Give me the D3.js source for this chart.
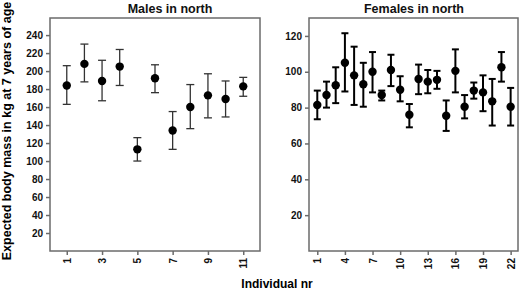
<!DOCTYPE html>
<html lang="en">
<head>
  <meta charset="UTF-8">
  <title>Expected body mass at 7 years of age</title>
  <style>
    body { margin: 0; background: #fff; }
    svg { display: block; font-family: 'Liberation Sans', Arial, sans-serif; font-weight: bold; }
    .axis path, .axis line { stroke: #6b6b6b; stroke-width: 1.5; }
    .axis text { font-size: 10px; font-weight: bold; fill: #111; }
    .frame { fill: none; stroke: #6b6b6b; stroke-width: 1.5; }
    .title { font-size: 12.5px; fill: #111; }
  </style>
  <script src="https://d3js.org/d3.v7.min.js"></script>
</head>
<body>
  <svg id="chart" width="520" height="290"></svg>

  <script>
    // males in north
    const maleIds   = [1, 2, 3, 4, 5, 6, 7, 8, 9, 10, 11];
    const maleMean  = [184, 208, 189, 205, 113, 192, 134, 160, 173, 169, 183];
    const maleUpper = [206, 230, 212, 224, 126, 207, 155, 185, 197, 189, 193];
    const maleLower = [163, 188, 167, 184, 100, 176, 113, 136, 148, 149, 172];
    const maleTicks = [1, 3, 5, 7, 9, 11];
    const maleYTicks = [20, 40, 60, 80, 100, 120, 140, 160, 180, 200, 220, 240];

    // females in north
    const femaleIds   = d3.range(1, 23);
    const femaleMean  = [81.5, 87, 92.5, 105, 98, 93, 100, 87, 101, 90, 76, 96, 94.5, 95.5, 75.5, 100.5, 80.5, 89.5, 88.5, 83.5, 102.5, 80.5];
    const femaleUpper = [89.5, 94.5, 102.5, 121.5, 114, 105, 111, 89.5, 109.5, 97.5, 82, 104, 101, 100.5, 84, 112.5, 87, 94, 98, 96, 111, 91];
    const femaleLower = [73.5, 80, 82.5, 89, 81.5, 80.5, 88.5, 84, 92, 83.5, 69, 87.5, 88, 90.5, 67, 88.5, 74, 85, 78, 70, 94.5, 70];
    const femaleTicks = [1, 4, 7, 10, 13, 16, 19, 22];
    const femaleYTicks = [20, 40, 60, 80, 100, 120];

    const svg = d3.select("#chart");
    const plotTop = 18, plotBottom = 251;

    function panel(opt) {
      const x = d3.scaleLinear().domain(opt.xDomain).range([opt.left, opt.right]);
      const y = d3.scaleLinear().domain(opt.yDomain).range([plotBottom, plotTop]);
      const g = svg.append("g");

      g.append("rect").attr("class", "frame")
        .attr("x", opt.left).attr("y", plotTop)
        .attr("width", opt.right - opt.left).attr("height", plotBottom - plotTop);

      const ya = g.append("g").attr("class", "axis")
        .attr("transform", `translate(${opt.left},0)`)
        .call(d3.axisLeft(y).tickValues(opt.yTicks).tickSize(4).tickPadding(3));
      ya.select(".domain").remove();

      const xa = g.append("g").attr("class", "axis")
        .attr("transform", `translate(0,${plotBottom})`)
        .call(d3.axisBottom(x).tickValues(opt.xTicks).tickSize(4));
      xa.select(".domain").remove();
      xa.selectAll("text")
        .attr("transform", "rotate(-90)")
        .attr("x", -7).attr("y", 0).attr("dy", "0.35em")
        .attr("text-anchor", "end");

      const pts = opt.ids.map((id, i) => ({ id, m: opt.mean[i], hi: opt.upper[i], lo: opt.lower[i] }));
      const bars = g.append("g").attr("stroke", opt.barColor).attr("stroke-width", opt.barWidth);
      bars.selectAll(".v").data(pts).join("line")
        .attr("x1", d => x(d.id)).attr("x2", d => x(d.id))
        .attr("y1", d => y(d.hi)).attr("y2", d => y(d.lo));
      bars.selectAll(".ct").data(pts).join("line")
        .attr("x1", d => x(d.id) - opt.cap).attr("x2", d => x(d.id) + opt.cap)
        .attr("y1", d => y(d.hi)).attr("y2", d => y(d.hi));
      bars.selectAll(".cb").data(pts).join("line")
        .attr("x1", d => x(d.id) - opt.cap).attr("x2", d => x(d.id) + opt.cap)
        .attr("y1", d => y(d.lo)).attr("y2", d => y(d.lo));

      g.append("g").selectAll("circle").data(pts).join("circle")
        .attr("cx", d => x(d.id)).attr("cy", d => y(d.m))
        .attr("r", 4.2).attr("fill", "#000");

      g.append("text").attr("class", "title")
        .attr("x", opt.titleX).attr("y", 12.5)
        .attr("text-anchor", "middle")
        .text(opt.title);
    }

    panel({
      left: 50, right: 260, xDomain: [0.05, 11.95], yDomain: [0, 259],
      ids: maleIds, mean: maleMean, upper: maleUpper, lower: maleLower,
      xTicks: maleTicks, yTicks: maleYTicks,
      barColor: "#333", barWidth: 1.3, cap: 4,
      title: "Males in north", titleX: 170
    });

    panel({
      left: 309, right: 518, xDomain: [0.1, 22.8], yDomain: [0, 130],
      ids: femaleIds, mean: femaleMean, upper: femaleUpper, lower: femaleLower,
      xTicks: femaleTicks, yTicks: femaleYTicks,
      barColor: "#000", barWidth: 2, cap: 3.5,
      title: "Females in north", titleX: 414
    });

    svg.append("text")
      .attr("transform", "translate(10.5,131) rotate(-90)")
      .attr("text-anchor", "middle")
      .style("font-size", "12.5px")
      .text("Expected body mass in kg at 7 years of age");

    svg.append("text")
      .attr("x", 277).attr("y", 288)
      .attr("text-anchor", "middle")
      .style("font-size", "12px")
      .text("Individual nr");
  </script>
</body>
</html>
